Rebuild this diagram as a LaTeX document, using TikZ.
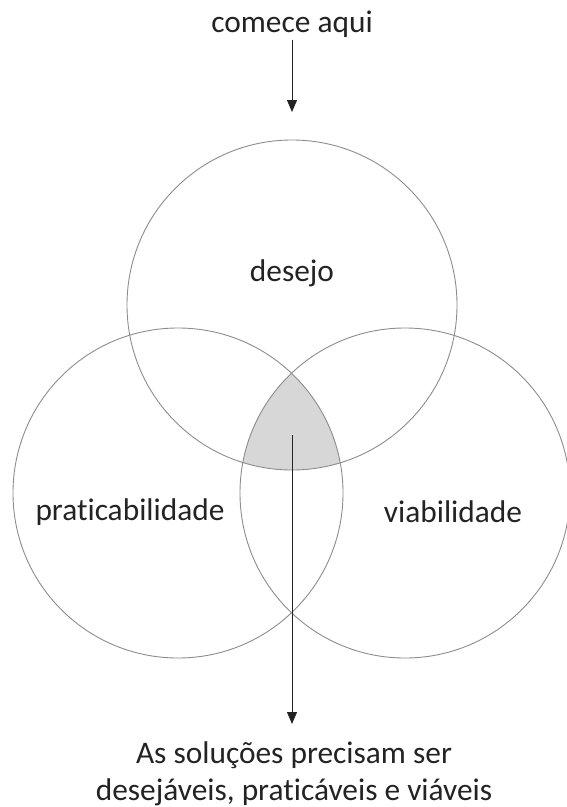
\documentclass[tikz,border=0pt]{standalone}
\usepackage{fontspec}
\setmainfont{Carlito}[Ligatures=NoCommon]
\usetikzlibrary{arrows.meta}

\definecolor{inkgray}{RGB}{35,35,35}
\definecolor{ringgray}{RGB}{140,140,140}
\definecolor{coregray}{RGB}{215,215,215}

\tikzset{
    label/.style={font=\fontsize{31.5}{37}\selectfont, text=inkgray, align=center, inner sep=2pt},
    ring/.style={circle, draw=ringgray, line width=0.9bp, minimum size=330bp, inner sep=0pt},
    flow/.style={-{Triangle[length=12bp, width=10bp]}, draw=inkgray, line width=0.8bp}
}

\begin{document}
\begin{tikzpicture}[x=1bp, y=-1bp]
    \useasboundingbox (0,0) rectangle (567,807);
    % shaded common area
    \begin{scope}
        \clip (292,305) circle (165);
        \clip (178,493) circle (165);
        \fill[coregray] (405,493) circle (165);
    \end{scope}
    \node[ring] (desire) at (292,305) {};
    \node[ring] (feasible) at (178,493) {};
    \node[ring] (viable) at (405,493) {};
    \node[label] (start) at (292,24) {comece aqui};
    \node[label] (desire-text) at (292,273) {desejo};
    \node[label] (feasible-text) at (130,512) {praticabilidade};
    \node[label] (viable-text) at (453,512) {viabilidade};
    \node[label] (goal) at (294,774) {As soluções precisam ser\\desejáveis, praticáveis e viáveis};
    \coordinate (entry) at (292,112);
    \coordinate (core) at (292,435);
    \coordinate (exit) at (292,724);
    \draw[flow] (start.south) -- (entry);
    \draw[flow] (core) -- (exit);
\end{tikzpicture}
\end{document}
